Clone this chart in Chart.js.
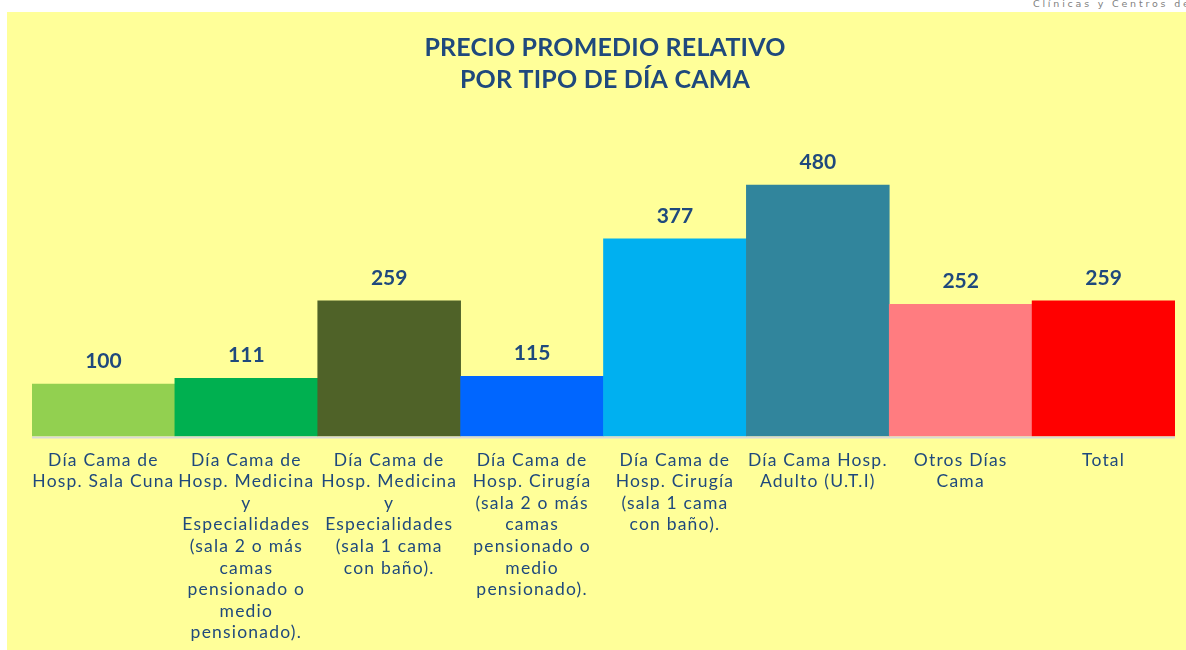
<!DOCTYPE html>
<html>
<head>
<meta charset="utf-8">
<script src="https://cdn.jsdelivr.net/npm/chart.js@4.4.1/dist/chart.umd.min.js"></script>
<style>
  html,body{margin:0;padding:0;background:#ffffff;width:1186px;height:650px;overflow:hidden;position:relative;}
  #wrap{position:absolute;left:7px;top:12px;width:1179px;height:638px;background:#FFFF99;}
  #hdr{position:absolute;left:1033px;top:-2px;font-family:"DejaVu Sans",sans-serif;font-size:9.5px;letter-spacing:2.8px;color:#808080;white-space:nowrap;}
</style>
</head>
<body>
<div id="hdr">Clínicas y Centros de Salud</div>
<div id="wrap"><canvas id="c" width="1179" height="638"></canvas></div>
<script>
const titleLines = ["PRECIO PROMEDIO RELATIVO", "POR TIPO DE DÍA CAMA"];
const categories = [
  ["Día Cama de", "Hosp. Sala Cuna"],
  ["Día Cama de", "Hosp. Medicina", "y", "Especialidades", "(sala 2 o más", "camas", "pensionado o", "medio", "pensionado)."],
  ["Día Cama de", "Hosp. Medicina", "y", "Especialidades", "(sala 1 cama", "con baño)."],
  ["Día Cama de", "Hosp. Cirugía", "(sala 2 o más", "camas", "pensionado o", "medio", "pensionado)."],
  ["Día Cama de", "Hosp. Cirugía", "(sala 1 cama", "con baño)."],
  ["Día Cama Hosp.", "Adulto (U.T.I)"],
  ["Otros Días", "Cama"],
  ["Total"]
];
const values = [100, 111, 259, 115, 377, 480, 252, 259];
const barColors = ["#92D050", "#00B050", "#4F6228", "#0066FF", "#00B0F0", "#31859C", "#FF7C80", "#FF0000"];

const textBlue = "#1F497D";
const FONT = "Lato, 'DejaVu Sans', sans-serif";

const spacing = {
  id: "spacing",
  beforeInit(chart) { chart.ctx.letterSpacing = "1.2px"; },
  beforeUpdate(chart) { chart.ctx.letterSpacing = "1.2px"; },
  beforeDraw(chart) { chart.ctx.letterSpacing = "1.2px"; }
};

const overlay = {
  id: "overlay",
  afterDatasetsDraw(chart) {
    const ctx = chart.ctx;
    const meta = chart.getDatasetMeta(0);
    const area = chart.chartArea;
    ctx.save();
    ctx.letterSpacing = "0px";
    // baseline
    ctx.strokeStyle = "#D9D9D9";
    ctx.lineWidth = 2;
    ctx.beginPath();
    ctx.moveTo(area.left, area.bottom + 1);
    ctx.lineTo(area.right, area.bottom + 1);
    ctx.stroke();
    // value labels
    ctx.fillStyle = textBlue;
    ctx.font = "bold 21px " + FONT;
    ctx.textAlign = "center";
    ctx.textBaseline = "middle";
    meta.data.forEach((bar, i) => {
      ctx.fillText(String(values[i]), bar.x, bar.y - 23);
    });
    // title
    ctx.letterSpacing = "0.2px";
    ctx.font = "bold 25px " + FONT;
    titleLines.forEach((t, i) => {
      ctx.fillText(t, 598, 36 + i * 32);
    });
    ctx.restore();
  }
};

new Chart(document.getElementById("c"), {
  type: "bar",
  data: {
    labels: categories,
    datasets: [{
      data: values,
      backgroundColor: barColors,
      borderWidth: 0,
      categoryPercentage: 1.0,
      barPercentage: 1.0
    }]
  },
  options: {
    responsive: false,
    animation: false,
    events: [],
    layout: { padding: { left: 25, right: 11, top: 162.5, bottom: 0 } },
    plugins: {
      legend: { display: false },
      tooltip: { enabled: false },
      title: { display: false }
    },
    scales: {
      x: {
        grid: { display: false },
        border: { display: false },
        ticks: {
          color: textBlue,
          autoSkip: false,
          maxRotation: 0,
          padding: 5,
          font: { family: FONT, size: 17.5, lineHeight: 1.23 }
        },
        afterFit(scale) { scale.height = 213.5; }
      },
      y: {
        display: false,
        min: 0,
        max: 500
      }
    }
  },
  plugins: [spacing, overlay]
});
</script>
</body>
</html>
